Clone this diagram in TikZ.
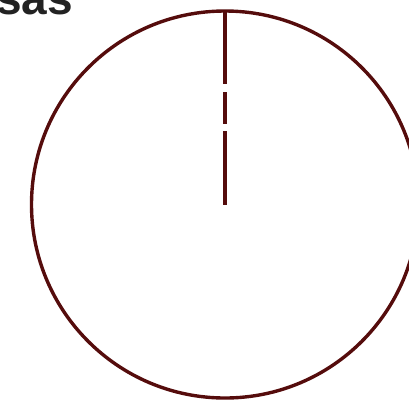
\documentclass[tikz,border=0pt]{standalone}
\usepackage{fontspec}
\setmainfont{Liberation Sans}
\usetikzlibrary{positioning}
\definecolor{maroon}{HTML}{550C0C}
\definecolor{textdark}{HTML}{222222}

\begin{document}
\begin{tikzpicture}[
  x=1pt, y=-1pt,
  rim/.style={draw=maroon, line width=3.4pt},
  needle/.style={draw=maroon, line width=3.4pt, dash pattern=on 73pt off 8pt on 32pt off 7pt on 80pt},
  title/.style={font=\fontsize{46}{46}\selectfont\bfseries\color{textdark}, inner sep=0pt, anchor=base west}
]
  \useasboundingbox (0,0) rectangle (409,400);
  \clip (0,0) rectangle (409,400);

  \coordinate (hub) at (225,204.5);
  \coordinate (tip) at (225,11);

  \node[title] (heading) at (-4,14.5) {sas};

  \draw[rim] (hub) circle[radius=193.5];
  \draw[needle] (tip) -- (hub);
\end{tikzpicture}
\end{document}
